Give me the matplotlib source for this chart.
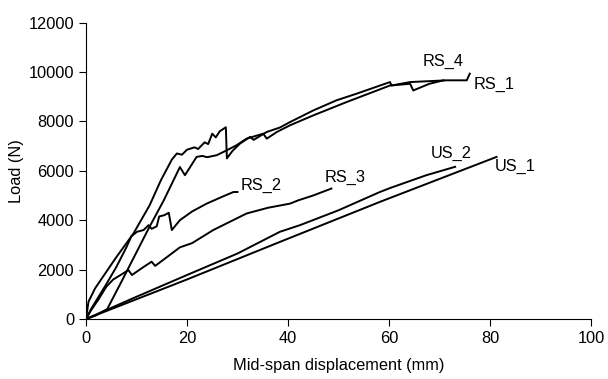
import matplotlib
matplotlib.use("Agg")
import matplotlib.pyplot as plt

plt.rcParams["font.family"] = ["Liberation Sans", "DejaVu Sans"]

# Load-displacement curves (mm, N)
rs4_x = [0, 0.5, 1.8, 4, 6, 9.4, 12.6, 14.8, 17.0, 18.0, 19.0, 20.0, 21.5, 22.2,
         23.5, 24.2, 25.0, 25.7, 26.5, 27.7, 27.9, 29.0, 30.5, 32.5, 33.2, 35.8,
         38.4, 40.4, 45.0, 49.6, 53.6, 60.2, 60.5, 64.2, 71.4, 75.4, 76.0]
rs4_y = [0, 700, 1240, 1900, 2500, 3460, 4600, 5600, 6450, 6700, 6650, 6850, 6950, 6880,
         7150, 7080, 7500, 7350, 7600, 7760, 6500, 6800, 7100, 7370, 7250, 7570,
         7750, 7970, 8440, 8850, 9120, 9590, 9450, 9590, 9660, 9660, 9930]

rs1_x = [0, 2, 4.2, 7, 10, 12.5, 15.4, 18.6, 19.6, 21.9, 23.0, 24.0, 25.9, 27.9,
         29.8, 31.8, 35.1, 35.8, 37.8, 40.4, 45.0, 51.6, 60.2, 64.2, 64.8, 68.0, 70.8]
rs1_y = [0, 150, 400, 1500, 2700, 3700, 4800, 6150, 5820, 6560, 6600, 6550, 6630, 6830,
         7030, 7300, 7500, 7300, 7570, 7840, 8240, 8780, 9450, 9520, 9250, 9520, 9660]

rs2_x = [0, 1, 2.5, 4, 6, 8, 9, 10.1, 11.4, 12.4, 13, 14, 14.5, 15.5, 16.4, 17.0,
         18.6, 21, 23.9, 27, 29.2, 30]
rs2_y = [0, 400, 900, 1400, 2100, 2900, 3350, 3530, 3600, 3800, 3650, 3750, 4150, 4200,
         4300, 3600, 4000, 4350, 4670, 4950, 5140, 5140]

rs3_x = [0, 1, 2.5, 4, 5.4, 7, 8.4, 9.1, 11, 13, 13.7, 16, 18.6, 21, 25.2, 31.8,
         36, 40.4, 42, 45, 48.6]
rs3_y = [0, 350, 800, 1300, 1600, 1800, 1980, 1780, 2050, 2320, 2150, 2500, 2900, 3070,
         3600, 4270, 4500, 4670, 4800, 5000, 5280]

us2_x = [0, 10, 20, 30, 38.4, 42.4, 50, 58.2, 60.2, 67.4, 73.1]
us2_y = [0, 900, 1780, 2650, 3530, 3800, 4400, 5140, 5300, 5820, 6160]

us1_x = [0, 10, 20, 38.4, 58.2, 81.3]
us1_y = [0, 800, 1600, 3120, 4740, 6560]

curve_labels = ["RS_4", "RS_1", "RS_2", "RS_3", "US_2", "US_1"]
label_x = [70.7, 80.8, 34.7, 51.3, 72.3, 85.0]
label_y = [10420, 9475, 5410, 5720, 6690, 6180]

fig = plt.figure(figsize=(6.08, 3.79), dpi=100)
ax = fig.add_axes([0.1414, 0.1583, 0.8306, 0.7823])

for xs, ys in [(rs4_x, rs4_y), (rs1_x, rs1_y), (rs2_x, rs2_y),
               (rs3_x, rs3_y), (us2_x, us2_y), (us1_x, us1_y)]:
    ax.plot(xs, ys, color="black", linewidth=1.4)

for name, lx, ly in zip(curve_labels, label_x, label_y):
    ax.text(lx, ly, name, ha="center", va="center", fontsize=11.8)

ax.set_xlim(0, 100)
ax.set_ylim(0, 12000)
ax.set_xticks(range(0, 101, 20))
ax.set_yticks(range(0, 12001, 2000))
ax.spines["top"].set_visible(False)
ax.spines["right"].set_visible(False)
ax.tick_params(direction="out", length=5, labelsize=11.8)
ax.set_xlabel("Mid-span displacement (mm)", fontsize=11.8, labelpad=9)
ax.set_ylabel("Load (N)", fontsize=11.8, labelpad=3)

fig.savefig("out.png", dpi=100)
